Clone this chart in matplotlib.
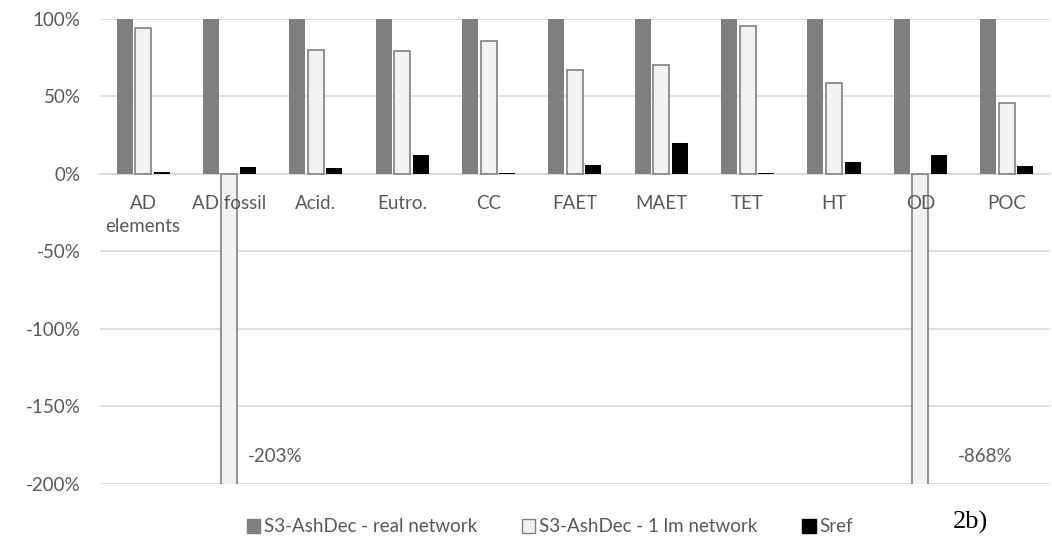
import matplotlib.pyplot as plt
import matplotlib.patches as mpatches
import numpy as np

plt.rcParams['font.family'] = ['Lato', 'DejaVu Sans']

categories = ["AD\nelements", "AD fossil", "Acid.", "Eutro.", "CC", "FAET",
              "MAET", "TET", "HT", "OD", "POC"]
real_network = [100, 100, 100, 100, 100, 100, 100, 100, 100, 100, 100]
lm_network = [94, -203, 80, 79.5, 85.5, 66.7, 70, 95.3, 58.5, -868, 45.6]
sref = [1, 4.5, 3.6, 12.3, 0.6, 5.8, 19.8, 0.6, 7.7, 12, 5.2]
series_names = ["S3-AshDec - real network", "S3-AshDec - 1 lm network", "Sref"]

grey_txt = "#595959"
grid_col = "#d9d9d9"
fs = 13.5

fig = plt.figure(figsize=(10.52, 5.39), dpi=100)
ax = fig.add_axes([0.095, 0.102, 0.903, 0.863])

x = np.arange(len(categories))
w = 0.185
step = 0.215
ax.bar(x - step, real_network, w, color="#7f7f7f", zorder=3)
ax.bar(x, lm_network, w, color="#f2f2f2", edgecolor="#808080", linewidth=1.2, zorder=3)
ax.bar(x + step, sref, w, color="#000000", zorder=3)

ax.set_ylim(-200, 100)
ax.set_xlim(-0.5, len(categories) - 0.5)
ax.set_yticks(np.arange(-200, 101, 50))
ax.set_yticklabels([f"{v}%" for v in range(-200, 101, 50)])
ax.yaxis.grid(True, color=grid_col, linewidth=1.2, zorder=0)

# labels for the bars that run off the bottom of the axis
label_dx = {1: 0.21, 9: 0.43}
for i, v in enumerate(lm_network):
    if v < -200:
        ax.text(i + label_dx[i], -182, f"{v:.0f}%", fontsize=fs,
                color=grey_txt, va="center", ha="left", zorder=4)

ax.set_xticks(x)
ax.set_xticklabels(categories)
ax.xaxis.set_zorder(5)
ax.spines['bottom'].set_position(('data', 0))
ax.spines['bottom'].set_color(grid_col)
ax.spines['bottom'].set_linewidth(1.2)
for s in ['top', 'right', 'left']:
    ax.spines[s].set_visible(False)
ax.tick_params(axis='both', length=0, labelsize=fs, labelcolor=grey_txt)
ax.tick_params(axis='x', pad=15)
ax.tick_params(axis='y', pad=14)
for lab in ax.get_xticklabels():
    lab.set_va("top")
    lab.set_linespacing(1.45)

handles = [
    mpatches.Patch(facecolor="#7f7f7f", edgecolor="#7f7f7f"),
    mpatches.Patch(facecolor="#f2f2f2", edgecolor="#808080"),
    mpatches.Patch(facecolor="#000000", edgecolor="#000000"),
]
leg = fig.legend(handles, series_names, loc="center", ncol=3,
                 bbox_to_anchor=(550 / 1052, 1 - 527 / 539), frameon=False,
                 fontsize=fs, handlelength=0.7, handleheight=0.7,
                 handletextpad=0.2, columnspacing=2.4)
for t in leg.get_texts():
    t.set_color(grey_txt)

fig.text(970 / 1052, 1 - 522 / 539, "2b)", family="Liberation Serif", fontsize=19,
         ha="center", va="center", color="black")

fig.savefig("out.png", dpi=100)
